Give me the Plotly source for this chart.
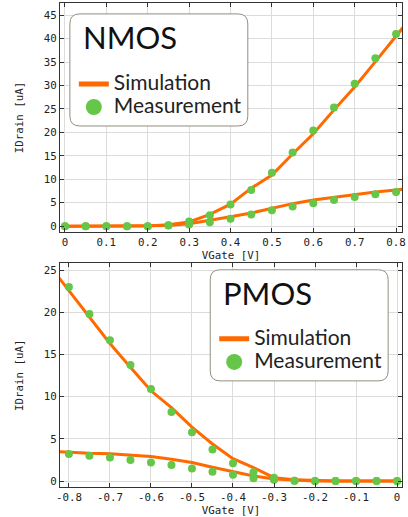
import plotly.graph_objects as go

# ---------------- data ----------------
nmos_vg = [0, 0.05, 0.1, 0.15, 0.2, 0.25, 0.3, 0.35, 0.4, 0.45, 0.5, 0.55, 0.6, 0.65, 0.7, 0.75, 0.8]
nmos_meas_hi = [0, 0, 0, 0, 0, 0.2, 1.0, 2.3, 4.6, 7.7, 11.4, 15.7, 20.4, 25.3, 30.4, 35.8, 41.0]
nmos_meas_lo = [0, 0, 0, 0, 0, 0.15, 0.35, 0.85, 1.6, 2.5, 3.4, 4.2, 4.9, 5.6, 6.2, 6.8, 7.3]

nmos_sim_vg = [0, 0.05, 0.1, 0.15, 0.2, 0.25, 0.3, 0.35, 0.4, 0.45, 0.5, 0.55, 0.6, 0.65, 0.7, 0.75, 0.8, 0.85]
nmos_sim_hi = [0, 0, 0, 0, 0.05, 0.3, 0.9, 2.5, 4.7, 8.1, 10.9, 15.4, 19.7, 24.8, 29.7, 35.1, 40.4, 46.0]
nmos_sim_lo = [0, 0, 0, 0, 0.02, 0.15, 0.5, 1.2, 2.0, 2.8, 3.8, 4.8, 5.6, 6.2, 6.8, 7.3, 7.7, 8.2]

pmos_vg = [-0.8, -0.75, -0.7, -0.65, -0.6, -0.55, -0.5, -0.45, -0.4, -0.35, -0.3, -0.25, -0.2, -0.15, -0.1, -0.05, 0]
pmos_meas_hi = [23.0, 19.8, 16.7, 13.75, 10.9, 8.2, 5.8, 3.75, 2.1, 1.05, 0.4, 0.05, 0, 0, 0, 0, 0]
pmos_meas_lo = [3.2, 3.0, 2.8, 2.5, 2.2, 1.9, 1.5, 1.1, 0.75, 0.35, 0.15, 0.05, 0, 0, 0, 0, 0]

pmos_sim_vg = [-0.85, -0.8, -0.75, -0.7, -0.65, -0.6, -0.55, -0.5, -0.45, -0.4, -0.35, -0.3, -0.25, -0.2, -0.15, -0.1, -0.05, 0]
pmos_sim_hi = [25.7, 22.6, 19.5, 16.3, 13.5, 10.7, 8.7, 6.4, 4.4, 2.65, 1.6, 0.4, 0.15, 0.05, 0, 0, 0, 0]
pmos_sim_lo = [3.55, 3.4, 3.3, 3.25, 3.05, 2.9, 2.6, 2.2, 1.65, 1.1, 0.6, 0.25, 0.1, 0.0, 0, 0, 0, 0]

nmos_xticks = [0, 0.1, 0.2, 0.3, 0.4, 0.5, 0.6, 0.7, 0.8]
nmos_xlabels = ["0", "0.1", "0.2", "0.3", "0.4", "0.5", "0.6", "0.7", "0.8"]
pmos_xticks = [-0.8, -0.7, -0.6, -0.5, -0.4, -0.3, -0.2, -0.1, 0]
pmos_xlabels = ["-0.8", "-0.7", "-0.6", "-0.5", "-0.4", "-0.3", "-0.2", "-0.1", "0"]
nmos_yticks = [0, 5, 10, 15, 20, 25, 30, 35, 40, 45]
pmos_yticks = [0, 5, 10, 15, 20, 25]

# ---------------- style ----------------
ORANGE = "#ff6a00"
GREEN = "#66c648"
MONO = "DejaVu Sans Mono"
SANS = "Lato"
TXT = "#222222"
ITEM_PX = 21

W, H = 408, 517
ML, MR, MT, MB = 60, 2, 3, 26
PW, PH = W - ML - MR, H - MT - MB

def px(xp):
    return (xp - ML) / PW

def py(yp):
    return (H - MB - yp) / PH

fig = go.Figure()

def item(name):
    return f'<span style="font-size:{ITEM_PX}px">{name}</span>'

def add_panel(xa, ya, legend, vg, mh, ml, svg, sh, sl):
    for ys in (sh, sl):
        fig.add_trace(go.Scatter(x=svg, y=ys, mode="lines", xaxis=xa, yaxis=ya,
                                 line=dict(color=ORANGE, width=3), showlegend=False,
                                 hoverinfo="skip"))
    for ys in (mh, ml):
        fig.add_trace(go.Scatter(x=vg, y=ys, mode="markers", xaxis=xa, yaxis=ya,
                                 marker=dict(color=GREEN, size=8), showlegend=False))
    # legend proxies
    fig.add_trace(go.Scatter(x=[None], y=[None], mode="lines", xaxis=xa, yaxis=ya,
                             name=item("Simulation"), legend=legend,
                             line=dict(color=ORANGE, width=5)))
    fig.add_trace(go.Scatter(x=[None], y=[None], mode="markers", xaxis=xa, yaxis=ya,
                             name=item("Measurement"), legend=legend,
                             marker=dict(color=GREEN, size=16)))

add_panel("x", "y", "legend", nmos_vg, nmos_meas_hi, nmos_meas_lo,
          nmos_sim_vg, nmos_sim_hi, nmos_sim_lo)
add_panel("x2", "y2", "legend2", pmos_vg, pmos_meas_hi, pmos_meas_lo,
          pmos_sim_vg, pmos_sim_hi, pmos_sim_lo)

axis_common = dict(
    showline=True, linecolor="#333333", linewidth=1, mirror="ticks",
    ticks="inside", ticklen=4, tickcolor="#333333",
    showgrid=True, gridcolor="#dcdcdc", gridwidth=1, zeroline=False,
    tickfont=dict(family=MONO, size=10.8, color=TXT),
    title_font=dict(family=MONO, size=10.8, color=TXT),
    ticklabeloverflow="allow",
)

top_dom = [py(234), 1.0]
bot_dom = [0.0, py(265.5)]

leg_common = dict(xanchor="left", yanchor="top", bgcolor="rgba(0,0,0,0)", borderwidth=0,
                  font=dict(family=SANS, size=15.4, color=TXT),
                  tracegroupgap=0, itemsizing="trace")

fig.update_layout(
    width=W, height=H,
    margin=dict(l=ML, r=MR, t=MT, b=MB),
    paper_bgcolor="white", plot_bgcolor="white",
    xaxis=dict(axis_common, domain=[0, 1], anchor="y", range=[-0.012, 0.8143],
               tickvals=nmos_xticks, ticktext=nmos_xlabels,
               title=dict(text="VGate [V]", standoff=2)),
    yaxis=dict(axis_common, domain=top_dom, anchor="x", range=[-1.27, 47.6],
               tickvals=nmos_yticks, title=dict(text="IDrain [uA]", standoff=18)),
    xaxis2=dict(axis_common, domain=[0, 1], anchor="y2", range=[-0.8217, 0.012],
                tickvals=pmos_xticks, ticktext=pmos_xlabels,
                title=dict(text="VGate [V]", standoff=3)),
    yaxis2=dict(axis_common, domain=bot_dom, anchor="x2", range=[-0.7, 25.8],
                tickvals=pmos_yticks, title=dict(text="IDrain [uA]", standoff=18)),
    legend=dict(leg_common, x=px(74), y=py(68)),
    legend2=dict(leg_common, x=px(216), y=py(325)),
)

# panel titles inside the legend boxes
for text, xp, yp in [("NMOS", 81, 37), ("PMOS", 223, 295)]:
    fig.add_annotation(text=text, xref="paper", yref="paper", x=px(xp), y=py(yp),
                       xanchor="left", yanchor="middle", showarrow=False,
                       font=dict(family=SANS, size=31, color="#111111"))

def rounded_box(x0, y0, x1, y1, r):
    rx = r / PW
    ry = r / PH
    X0, X1 = px(x0), px(x1)
    Y0, Y1 = py(y1), py(y0)
    return (f"M {X0+rx},{Y1} L {X1-rx},{Y1} Q {X1},{Y1} {X1},{Y1-ry} "
            f"L {X1},{Y0+ry} Q {X1},{Y0} {X1-rx},{Y0} "
            f"L {X0+rx},{Y0} Q {X0},{Y0} {X0},{Y0+ry} "
            f"L {X0},{Y1-ry} Q {X0},{Y1} {X0+rx},{Y1} Z")

for box in [(70, 14, 250, 127), (212, 272, 392, 384)]:
    fig.add_shape(type="path", xref="paper", yref="paper",
                  path=rounded_box(*box, 10),
                  fillcolor="rgba(255,255,255,0.95)",
                  line=dict(color="#8f8f80", width=1), layer="above")

fig.write_html("out.html")
